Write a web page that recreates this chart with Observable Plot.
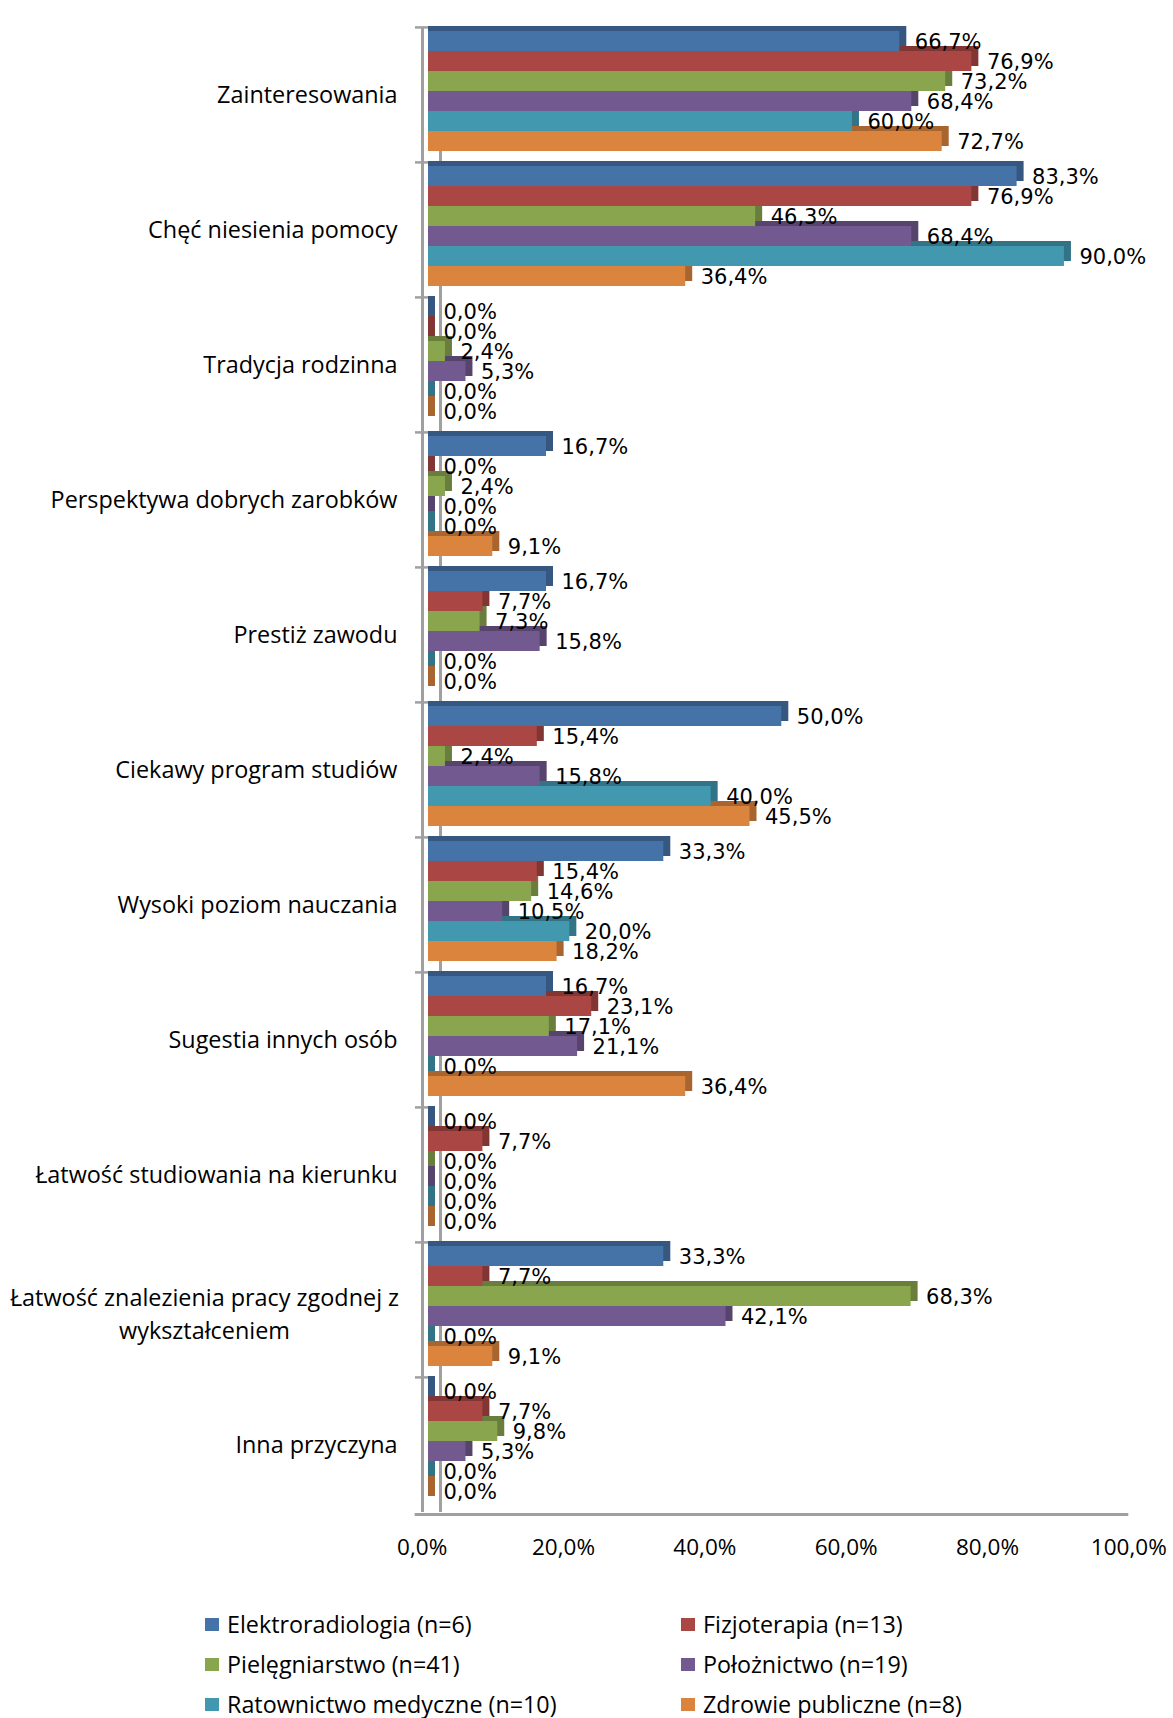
<!DOCTYPE html>
<html>
<head>
<meta charset="utf-8">
<script src="https://cdn.jsdelivr.net/npm/d3@7"></script>
<script src="https://cdn.jsdelivr.net/npm/@observablehq/plot@0.6"></script>
<style>
  body { margin: 0; background: #fff; }
  #legend { width: 1173px; padding-top: 14px; font-family: "Open Sans", sans-serif; font-size: 23.3px; color: #000; }
  #legend .row { display: flex; height: 40px; align-items: center; }
  #legend .item { display: flex; align-items: center; }
  #legend .item:nth-child(1) { position: absolute; left: 205px; }
  #legend .item:nth-child(2) { position: absolute; left: 681px; }
  #legend .sw { width: 14px; height: 13px; margin-right: 8px; }
</style>
</head>
<body>
<div id="chart"></div>
<div id="legend"></div>
<script>
const categories = [
  "Zainteresowania",
  "Chęć niesienia pomocy",
  "Tradycja rodzinna",
  "Perspektywa dobrych zarobków",
  "Prestiż zawodu",
  "Ciekawy program studiów",
  "Wysoki poziom nauczania",
  "Sugestia innych osób",
  "Łatwość studiowania na kierunku",
  "Łatwość znalezienia pracy zgodnej z wykształceniem",
  "Inna przyczyna"
];
const seriesNames = [
  "Elektroradiologia (n=6)",
  "Fizjoterapia (n=13)",
  "Pielęgniarstwo (n=41)",
  "Położnictwo (n=19)",
  "Ratownictwo medyczne (n=10)",
  "Zdrowie publiczne (n=8)"
];
const seriesColors = ["#4572A7", "#AA4643", "#89A54E", "#72598F", "#4198AF", "#DB843D"];

const elektroradiologia = [66.7, 83.3, 0.0, 16.7, 16.7, 50.0, 33.3, 16.7, 0.0, 33.3, 0.0];
const fizjoterapia      = [76.9, 76.9, 0.0, 0.0, 7.7, 15.4, 15.4, 23.1, 7.7, 7.7, 7.7];
const pielegniarstwo    = [73.2, 46.3, 2.4, 2.4, 7.3, 2.4, 14.6, 17.1, 0.0, 68.3, 9.8];
const poloznictwo       = [68.4, 68.4, 5.3, 0.0, 15.8, 15.8, 10.5, 21.1, 0.0, 42.1, 5.3];
const ratownictwo       = [60.0, 90.0, 0.0, 0.0, 0.0, 40.0, 20.0, 0.0, 0.0, 0.0, 0.0];
const zdrowie           = [72.7, 36.4, 0.0, 9.1, 0.0, 45.5, 18.2, 36.4, 0.0, 9.1, 0.0];

const xTicks = [0, 20, 40, 60, 80, 100];

const seriesValues = [elektroradiologia, fizjoterapia, pielegniarstwo, poloznictwo, ratownictwo, zdrowie];
const data = [];
categories.forEach((c, ci) => {
  seriesNames.forEach((s, si) => {
    data.push({category: c, series: s, value: seriesValues[si][ci]});
  });
});

const fmt = v => v.toFixed(1).replace(".", ",") + "%";
const darkColors = seriesColors.map(c => d3.rgb(c).darker(0.75).formatHex());
const longLabel = "Łatwość znalezienia pracy zgodnej z wykształceniem";
const gray = "#a0a0a0";

const plot = Plot.plot({
  width: 1173,
  height: 1590,
  marginLeft: 428,
  marginRight: 38.4,
  marginTop: 26,
  marginBottom: 77,
  style: {fontFamily: "Open Sans, sans-serif", fontSize: "22px", color: "#000", background: "#fff"},
  x: {domain: [0, 100], axis: null, label: null},
  y: {domain: seriesNames, axis: null, paddingInner: 0, paddingOuter: 0.346, align: 0.29},
  fy: {domain: categories, axis: null, padding: 0},
  color: {domain: seriesNames, range: seriesColors},
  marks: [
    // back wall line
    Plot.ruleX([0], {dx: 12, stroke: gray, strokeWidth: 3}),
    // 3D depth faces (top + side)
    Plot.barX(data, {
      fy: "category", y: "series", x1: 0, x2: "value",
      fill: d => darkColors[seriesNames.indexOf(d.series)],
      insetRight: -7, insetTop: -5, insetBottom: 5
    }),
    // front faces
    Plot.barX(data, {fy: "category", y: "series", x1: 0, x2: "value", fill: "series"}),
    // front wall line
    Plot.ruleX([0], {dx: -6, stroke: gray, strokeWidth: 3}),
    // wall tick marks at category boundaries
    Plot.ruleY(categories, {fy: d => d, y: () => seriesNames[0], x1: -1.84, x2: 0, dy: -14.1, stroke: gray, strokeWidth: 2.5}),
    // floor line
    Plot.ruleY([categories[categories.length - 1]], {fy: d => d, y: () => seriesNames[seriesNames.length - 1], x1: -1, x2: 100, dx: -6.3, dy: 23, stroke: gray, strokeWidth: 3}),
    // data labels
    Plot.text(data, {
      fy: "category", y: "series", x: "value", text: d => fmt(d.value),
      textAnchor: "start", dx: 15, dy: 1, fontFamily: "DejaVu Sans", fontSize: 21, fill: "#000"
    }),
    // category labels
    Plot.text(categories.filter(c => c !== longLabel), {
      fy: d => d, frameAnchor: "left", text: d => d, textAnchor: "end", dx: -31,
      fontSize: 23.4, fill: "#000"
    }),
    Plot.text([longLabel], {
      fy: d => d, frameAnchor: "left", text: () => "Łatwość znalezienia pracy zgodnej z\nwykształceniem",
      textAnchor: "middle", dx: -224, dy: 2, lineHeight: 1.4,
      fontSize: 23.4, fill: "#000"
    }),
    // x axis
    Plot.axisX(xTicks, {anchor: "bottom", tickSize: 0, tickPadding: 27, dx: -6.3, label: null,
      tickFormat: fmt, fontSize: 22.5, fill: "#000"})
  ]
});
document.getElementById("chart").appendChild(plot);

// legend
const legend = document.getElementById("legend");
for (let r = 0; r < 3; r++) {
  const row = document.createElement("div");
  row.className = "row";
  for (let c = 0; c < 2; c++) {
    const i = r * 2 + c;
    const item = document.createElement("div");
    item.className = "item";
    const sw = document.createElement("div");
    sw.className = "sw";
    sw.style.background = seriesColors[i];
    const label = document.createElement("span");
    label.textContent = seriesNames[i];
    item.appendChild(sw);
    item.appendChild(label);
    row.appendChild(item);
  }
  legend.appendChild(row);
}
</script>
</body>
</html>
